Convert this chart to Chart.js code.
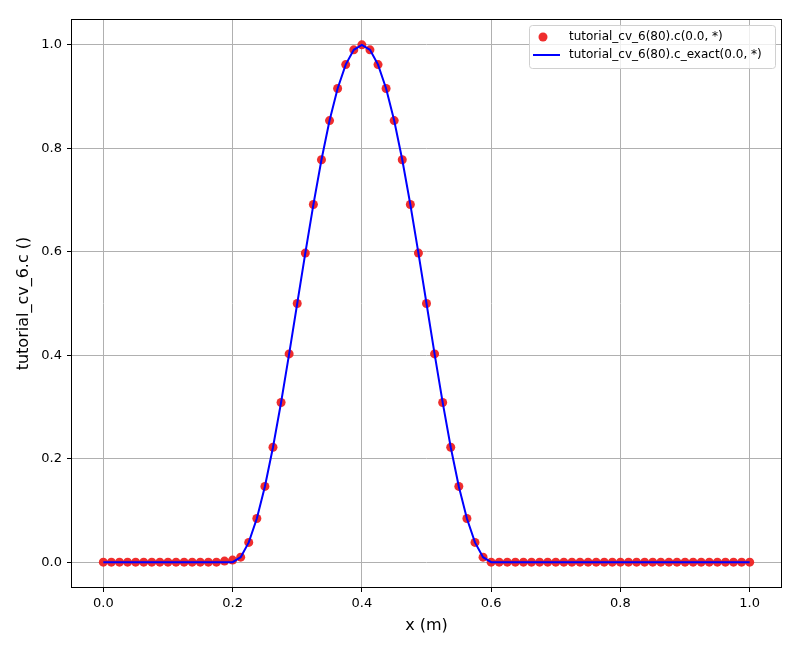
<!DOCTYPE html>
<html>
<head>
<meta charset="utf-8">
<script src="https://cdn.jsdelivr.net/npm/chart.js@4/dist/chart.umd.min.js"></script>
<style>
  body { margin: 0; background: #fff; }
  canvas { display: block; }
</style>
</head>
<body>
<canvas id="myChart" width="800" height="650"></canvas>
<script>
// x positions (m)
var xs = [0, 0.0125, 0.025, 0.0375, 0.05, 0.0625, 0.075, 0.0875, 0.1, 0.1125,
  0.125, 0.1375, 0.15, 0.1625, 0.175, 0.1875, 0.2, 0.2125, 0.225, 0.2375,
  0.25, 0.2625, 0.275, 0.2875, 0.3, 0.3125, 0.325, 0.3375, 0.35, 0.3625,
  0.375, 0.3875, 0.4, 0.4125, 0.425, 0.4375, 0.45, 0.4625, 0.475, 0.4875,
  0.5, 0.5125, 0.525, 0.5375, 0.55, 0.5625, 0.575, 0.5875, 0.6, 0.6125,
  0.625, 0.6375, 0.65, 0.6625, 0.675, 0.6875, 0.7, 0.7125, 0.725, 0.7375,
  0.75, 0.7625, 0.775, 0.7875, 0.8, 0.8125, 0.825, 0.8375, 0.85, 0.8625,
  0.875, 0.8875, 0.9, 0.9125, 0.925, 0.9375, 0.95, 0.9625, 0.975, 0.9875, 1.0];

// computed c
var cValues = [0, 0, 0, 0, 0, 0, 0, 0, 0, 0,
  0, 0, 0, 0, 0, 0.002, 0.004, 0.0096, 0.0381, 0.0843,
  0.1464, 0.2222, 0.3087, 0.4025, 0.5, 0.5975, 0.6913, 0.7778, 0.8536, 0.9157,
  0.9619, 0.9904, 1.0, 0.9904, 0.9619, 0.9157, 0.8536, 0.7778, 0.6913, 0.5975,
  0.5, 0.4025, 0.3087, 0.2222, 0.1464, 0.0843, 0.0381, 0.0096, 0, 0,
  0, 0, 0, 0, 0, 0, 0, 0, 0, 0,
  0, 0, 0, 0, 0, 0, 0, 0, 0, 0,
  0, 0, 0, 0, 0, 0, 0, 0, 0, 0, 0];

// exact c
var cExact = [0, 0, 0, 0, 0, 0, 0, 0, 0, 0,
  0, 0, 0, 0, 0, 0, 0, 0.0096, 0.0381, 0.0843,
  0.1464, 0.2222, 0.3087, 0.4025, 0.5, 0.5975, 0.6913, 0.7778, 0.8536, 0.9157,
  0.9619, 0.9904, 1.0, 0.9904, 0.9619, 0.9157, 0.8536, 0.7778, 0.6913, 0.5975,
  0.5, 0.4025, 0.3087, 0.2222, 0.1464, 0.0843, 0.0381, 0.0096, 0, 0,
  0, 0, 0, 0, 0, 0, 0, 0, 0, 0,
  0, 0, 0, 0, 0, 0, 0, 0, 0, 0,
  0, 0, 0, 0, 0, 0, 0, 0, 0, 0, 0];

var xTicks = [0, 0.2, 0.4, 0.6, 0.8, 1.0];
var yTicks = [0, 0.2, 0.4, 0.6, 0.8, 1.0];
var seriesNames = ['tutorial_cv_6(80).c(0.0, *)', 'tutorial_cv_6(80).c_exact(0.0, *)'];

var FONT = "'DejaVu Sans', sans-serif";

function toPoints(xv, yv) {
  return xv.map(function (x, i) { return { x: x, y: yv[i] }; });
}

// matplotlib-like legend box inside the plot
var boxLegend = {
  id: 'boxLegend',
  afterDraw: function (chart) {
    var ctx = chart.ctx;
    var area = chart.chartArea;
    var w = 246, h = 43;
    var x0 = area.right - 7 - w, y0 = area.top + 6;
    ctx.save();
    ctx.fillStyle = 'rgba(255,255,255,0.8)';
    ctx.strokeStyle = '#d0d0d0';
    ctx.lineWidth = 1;
    ctx.beginPath();
    ctx.roundRect(x0 + 0.5, y0 + 0.5, w, h, 3);
    ctx.fill();
    ctx.stroke();

    ctx.font = '12px ' + FONT;
    ctx.textBaseline = 'middle';
    // dots entry
    ctx.fillStyle = 'rgba(238,34,34,0.95)';
    ctx.beginPath();
    ctx.arc(x0 + 14, y0 + 12, 4.5, 0, Math.PI * 2);
    ctx.fill();
    ctx.fillStyle = '#000';
    ctx.fillText(seriesNames[0], x0 + 40, y0 + 12);
    // line entry
    ctx.strokeStyle = '#0000ff';
    ctx.lineWidth = 2;
    ctx.beginPath();
    ctx.moveTo(x0 + 4, y0 + 30);
    ctx.lineTo(x0 + 31, y0 + 30);
    ctx.stroke();
    ctx.fillText(seriesNames[1], x0 + 40, y0 + 30);
    ctx.restore();
  }
};

var ctx = document.getElementById('myChart').getContext('2d');
var myChart = new Chart(ctx, {
  type: 'scatter',
  data: {
    datasets: [{
      label: seriesNames[1],
      data: toPoints(xs, cExact),
      showLine: true,
      borderColor: '#0000ff',
      borderWidth: 2,
      pointRadius: 0,
      fill: false,
      order: 0
    }, {
      label: seriesNames[0],
      data: toPoints(xs, cValues),
      showLine: false,
      pointRadius: 4.5,
      pointBackgroundColor: 'rgba(238,34,34,0.95)',
      pointBorderWidth: 0,
      order: 1
    }]
  },
  options: {
    responsive: false,
    animation: false,
    layout: { padding: { top: 19, right: 18, left: 0, bottom: 0 } },
    plugins: {
      legend: { display: false },
      tooltip: { enabled: false }
    },
    scales: {
      x: {
        type: 'linear',
        min: -0.05,
        max: 1.05,
        afterBuildTicks: function (axis) {
          axis.ticks = xTicks.map(function (v) { return { value: v }; });
        },
        afterFit: function (scale) { scale.height = 62; },
        ticks: {
          color: '#000',
          font: { family: FONT, size: 13 },
          padding: 4,
          maxRotation: 0,
          callback: function (v) { return v.toFixed(1); }
        },
        grid: { color: '#b0b0b0', lineWidth: 1, tickLength: 4, tickColor: '#000' },
        border: { display: false },
        title: {
          display: true,
          text: 'x (m)',
          color: '#000',
          font: { family: FONT, size: 16 },
          padding: { top: 2, bottom: 15 }
        }
      },
      y: {
        type: 'linear',
        min: -0.05,
        max: 1.05,
        afterBuildTicks: function (axis) {
          axis.ticks = yTicks.map(function (v) { return { value: v }; });
        },
        afterFit: function (scale) { scale.width = 71; },
        ticks: {
          color: '#000',
          font: { family: FONT, size: 13 },
          padding: 5,
          callback: function (v) { return v.toFixed(1); }
        },
        grid: { color: '#b0b0b0', lineWidth: 1, tickLength: 4, tickColor: '#000' },
        border: { display: false },
        title: {
          display: true,
          text: 'tutorial_cv_6.c ()',
          color: '#000',
          font: { family: FONT, size: 16 },
          padding: { top: 14, bottom: 4 }
        }
      }
    }
  },
  plugins: [boxLegend, {
    id: 'frame',
    afterDraw: function (chart) {
      var a = chart.chartArea, c = chart.ctx;
      c.save();
      c.strokeStyle = '#000';
      c.lineWidth = 1;
      c.strokeRect(Math.round(a.left) + 0.5, Math.round(a.top) + 0.5,
        Math.round(a.right - a.left) - 1, Math.round(a.bottom - a.top) - 1);
      c.restore();
    }
  }]
});
</script>
</body>
</html>
